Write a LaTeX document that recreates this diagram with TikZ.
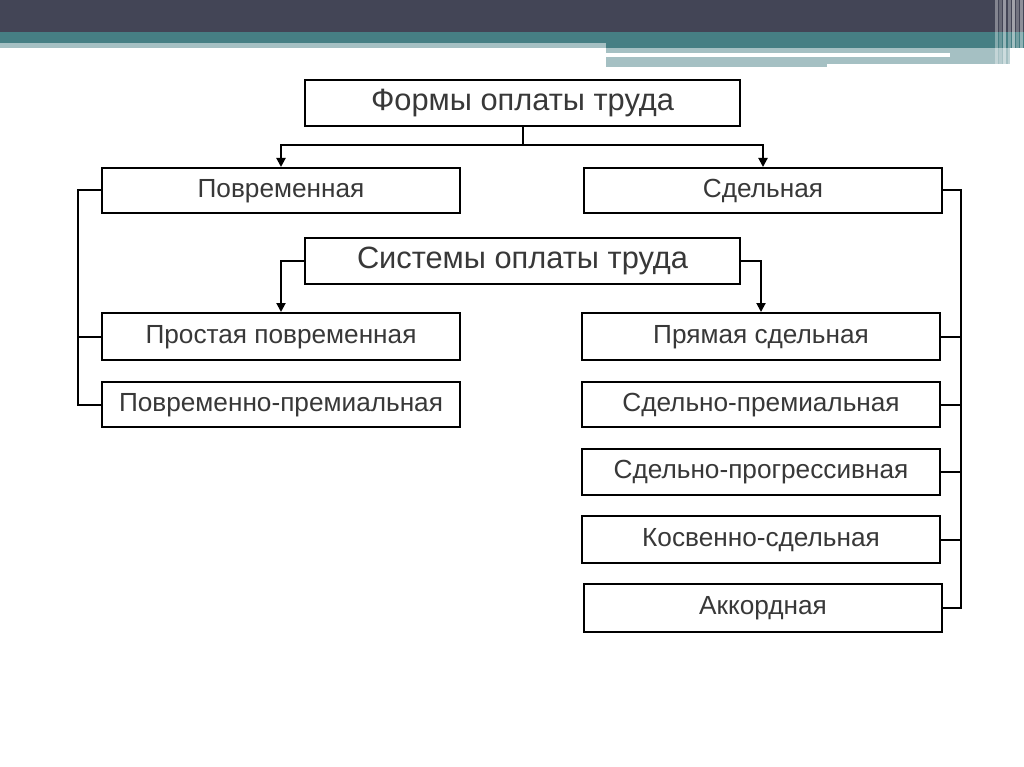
\documentclass[tikz,border=0pt]{standalone}
\usepackage{fontspec}
\setmainfont{Liberation Sans}
\usetikzlibrary{arrows.meta}
\definecolor{bandDark}{HTML}{434556}
\definecolor{bandTeal}{HTML}{467F84}
\definecolor{bandLight}{HTML}{A5C0C3}
\definecolor{txt}{HTML}{383838}
\tikzset{
  box/.style={draw=black, line width=2pt, fill=white, inner sep=0pt, text=txt,
    font=\fontsize{26.2}{29}\selectfont, minimum width=358pt,
    text height=19pt, text depth=5.5pt},
  titlebox/.style={box, minimum width=435pt, minimum height=46pt,
    font=\fontsize{30.8}{34}\selectfont, text height=22pt, text depth=6.5pt},
  conn/.style={draw=black, line width=2pt},
  arr/.style={conn, -{Triangle[length=9pt,width=9pt]}},
}
\begin{document}
\begin{tikzpicture}[x=1pt,y=-1pt]
\useasboundingbox (0,0) rectangle (1024,767);
\fill[white] (0,0) rectangle (1024,767);
% top banner
\fill[bandDark] (0,0) rectangle (1024,32);
\fill[bandTeal] (0,32) rectangle (1024,48);
\fill[bandLight] (0,43) rectangle (606,48);
\fill[bandLight] (606,48) rectangle (1010,64);
\fill[bandLight] (606,64) rectangle (827,67);
\fill[white] (606,53) rectangle (950,57);
\foreach \xx/\op in {995/0.35,999/0.2,1003/0.45,1008/0.3,1012/0.5,1016/0.25,1020/0.4}{
  \fill[white, opacity=\op] (\xx,0) rectangle ++(2.5,67);
}
% nodes
\node[titlebox] (forms) at (522.5,103) {Формы оплаты труда};
\node[box, minimum height=45pt] (povr) at (281,190.5) {Повременная};
\node[box, minimum height=45pt] (sdel) at (763,190.5) {Сдельная};
\node[titlebox] (sys) at (522.5,261) {Системы оплаты труда};
\node[box, minimum height=47pt] (L1) at (281,336.5) {Простая повременная};
\node[box, minimum height=45pt] (L2) at (281,404.5) {Повременно-премиальная};
\node[box, minimum height=47pt] (R1) at (761,336.5) {Прямая сдельная};
\node[box, minimum height=45pt] (R2) at (761,404.5) {Сдельно-премиальная};
\node[box, minimum height=46pt] (R3) at (761,472) {Сдельно-прогрессивная};
\node[box, minimum height=47pt] (R4) at (761,539.5) {Косвенно-сдельная};
\node[box, minimum height=48pt] (R5) at (763,608) {Аккордная};
% connectors
\coordinate (fork) at (522.5,145);
\coordinate (lb) at (78,0);
\coordinate (rb) at (961,0);
\draw[conn] (forms.south) -- (fork);
\draw[arr] (fork) -| (povr.north);
\draw[arr] (fork) -| (sdel.north);
\draw[arr] (sys.west) -| (L1.north);
\draw[arr] (sys.east) -| (R1.north);
\draw[conn] (povr.west) -- (povr.west -| lb) |- (L2.west);
\draw[conn] (L1.west) -- (L1.west -| lb);
\draw[conn] (sdel.east) -- (sdel.east -| rb) |- (R5.east);
\draw[conn] (R1.east) -- (R1.east -| rb);
\draw[conn] (R2.east) -- (R2.east -| rb);
\draw[conn] (R3.east) -- (R3.east -| rb);
\draw[conn] (R4.east) -- (R4.east -| rb);
\end{tikzpicture}
\end{document}
